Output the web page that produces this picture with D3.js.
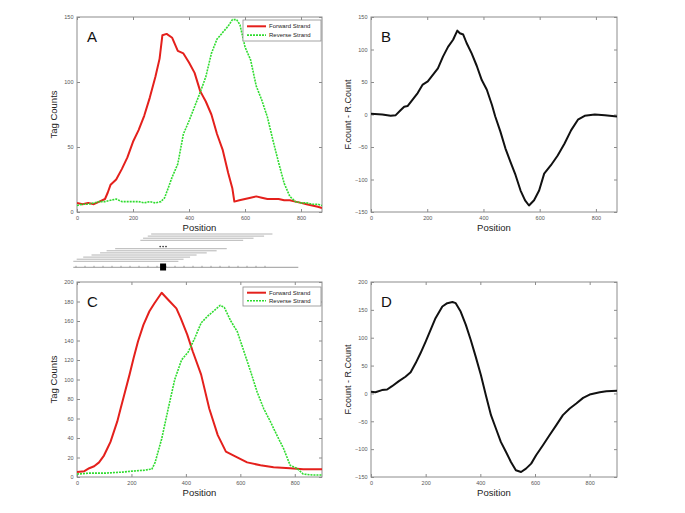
<!DOCTYPE html>
<html><head><meta charset="utf-8">
<script src="https://cdn.jsdelivr.net/npm/d3@7"></script>
<style>body{margin:0;background:#fff}svg{display:block}text{font-family:"Liberation Sans",Arial,sans-serif}</style>
</head><body><svg id="c" width="685" height="513"></svg>
<script>
// ---------------- data ----------------
const xTicks = [0, 200, 400, 600, 800];
const yTicksA = [0, 50, 100, 150];
const yTicksB = [-150, -100, -50, 0, 50, 100, 150];
const yTicksC = [0, 20, 40, 60, 80, 100, 120, 140, 160, 180, 200];
const yTicksD = [-150, -100, -50, 0, 50, 100, 150, 200];
const legendLabels = ["Forward Strand", "Reverse Strand"];

// Panel A
const aForwardPos = [0,20,40,60,80,100,110,120,140,160,180,200,220,240,260,280,295,305,320,340,360,380,400,420,440,460,480,500,520,540,555,562,580,600,620,640,660,680,700,720,740,760,780,800,820,840,860,875];
const aForwardCount = [7,6,7,6,8,10,15,21,25,33,42,54,63,74,88,104,118,136,137,134,124,122,115,107,93,85,75,60,48,30,18,8,9,10,11,12,11,10,10,10,9,9,8,7,6,5,4,3];
const aReversePos = [0,20,40,60,80,100,120,140,160,180,200,220,240,260,280,300,313,325,340,360,380,400,420,440,460,480,500,520,540,555,570,582,600,620,640,660,680,700,720,740,760,780,800,820,840,860,875];
const aReverseCount = [5,6,6,7,8,8,9,10,8,8,8,8,7,8,7,8,11,18,27,37,60,70,81,92,104,122,133,138,143,148,148,144,127,117,97,86,73,55,38,22,12,8,7,7,6,6,5];

// Panel B
const bPos = [0,40,70,88,106,118,130,148,166,184,202,220,238,256,274,292,307,316,328,340,358,376,394,412,430,442,460,478,496,514,532,548,562,580,598,616,640,664,688,712,736,760,796,832,875];
const bDiff = [1,0,-2,-1,7,12,13,23,33,46,51,61,71,89,104,115,129,125,123,110,94,75,53,38,15,-3,-26,-52,-73,-93,-117,-132,-140,-132,-117,-91,-78,-63,-45,-24,-8,-2,0,-1,-3];

// Panel C
const cForwardPos = [0,27,45,63,81,99,111,123,148,160,176,193,208,224,244,266,284,311,341,365,381,405,425,456,486,517,547,583,625,674,722,783,831,900];
const cForwardCount = [5,6,9,11,15,22,29,36,57,70,87,105,122,139,156,170,178,189,180,173,163,146,129,105,70,43,26,21,15,12,10,9,8,8];
const cReversePos = [0,45,105,166,202,250,269,275,287,311,335,359,384,408,432,456,480,505,526,541,565,589,613,638,662,686,710,734,759,783,807,831,868,900];
const cReverseCount = [3,4,4,5,6,7,8,8,15,39,70,100,120,128,142,158,165,171,176,174,160,149,129,108,87,70,57,43,29,12,9,3,2,2];

// Panel D
const dPos = [0,16,40,59,77,102,126,145,163,181,200,218,236,261,279,298,310,328,347,365,383,402,420,439,457,475,494,512,530,549,567,586,604,629,653,678,702,727,751,776,800,837,861,900];
const dDiff = [3,2,6,7,13,22,30,38,54,72,93,114,135,156,162,164,162,147,123,96,66,33,-3,-39,-63,-87,-105,-123,-138,-141,-135,-126,-111,-93,-75,-57,-39,-27,-18,-8,-2,2,4,5];

// Schematic of reads along position
const readStart = [346,331,310,298,186,148,119,81,44,15,0];
const readEnd   = [885,848,801,755,682,637,593,548,519,490,467];
const schemeTicks = d3.range(12, 860, 40);
const schemeMarker = 399;

// ---------------- drawing ----------------
const svg = d3.select("#c");
const RED = "#e4201c", GREEN = "#2fdc2f", BLACK = "#111";
const AX = "#8c8c8c";

function panel(o) {
  const x = d3.scaleLinear().domain(o.xDomain).range([o.left, o.right]);
  const y = d3.scaleLinear().domain(o.yDomain).range([o.bottom, o.top]);
  const g = svg.append("g");
  const clipId = "clip" + o.name;
  svg.append("clipPath").attr("id", clipId).append("rect")
    .attr("x", o.left).attr("y", o.top).attr("width", o.right - o.left).attr("height", o.bottom - o.top);

  const styleAxis = sel => {
    sel.select(".domain").remove();
    sel.selectAll(".tick line").attr("stroke", AX);
    sel.selectAll(".tick text").attr("fill", "#555").attr("font-size", 5.5);
  };
  g.append("g").attr("transform", `translate(0,${o.bottom})`)
    .call(d3.axisBottom(x).tickValues(xTicks).tickSizeInner(-3).tickSizeOuter(0).tickPadding(4)).call(styleAxis);
  g.append("g").attr("transform", `translate(0,${o.top})`)
    .call(d3.axisTop(x).tickValues(xTicks).tickSizeInner(-3).tickSizeOuter(0).tickFormat("")).call(styleAxis);
  g.append("g").attr("transform", `translate(${o.left},0)`)
    .call(d3.axisLeft(y).tickValues(o.yTicks).tickSizeInner(-3).tickSizeOuter(0).tickPadding(3.5)).call(styleAxis);
  g.append("g").attr("transform", `translate(${o.right},0)`)
    .call(d3.axisRight(y).tickValues(o.yTicks).tickSizeInner(-3).tickSizeOuter(0).tickFormat("")).call(styleAxis);
  g.append("rect").attr("x", o.left).attr("y", o.top).attr("width", o.right - o.left).attr("height", o.bottom - o.top)
    .attr("fill", "none").attr("stroke", AX).attr("stroke-width", 1);

  const line = d3.line().x(d => x(d[0])).y(d => y(d[1]));
  o.series.forEach(s => {
    g.append("path").attr("clip-path", `url(#${clipId})`)
      .datum(d3.zip(s.pos, s.val))
      .attr("d", line).attr("fill", "none").attr("stroke", s.color)
      .attr("stroke-width", s.width).attr("stroke-dasharray", s.dash || null)
      .attr("stroke-linejoin", "round");
  });

  g.append("text").attr("x", o.left + 10).attr("y", o.top + 25).attr("font-size", 15).attr("fill", "#111").text(o.letter);
  g.append("text").attr("x", (o.left + o.right) / 2).attr("y", o.bottom + 19).attr("text-anchor", "middle")
    .attr("font-size", 9.5).attr("fill", "#222").text("Position");
  g.append("text").attr("transform", `translate(${o.left - 20},${(o.top + o.bottom) / 2}) rotate(-90)`)
    .attr("text-anchor", "middle").attr("font-size", o.ylabelSize || 9.5).attr("fill", "#222").text(o.ylabel);

  if (o.legend) {
    const lx = o.right - 79, ly = o.top + o.legendTop, lh = o.legendH;
    const lg = g.append("g");
    lg.append("rect").attr("x", lx).attr("y", ly).attr("width", 78).attr("height", lh)
      .attr("fill", "#fff").attr("stroke", AX).attr("stroke-width", 0.8);
    o.series.forEach((s, i) => {
      const yy = ly + lh * (i === 0 ? 0.3 : 0.72);
      lg.append("line").attr("x1", lx + 4).attr("x2", lx + 23).attr("y1", yy).attr("y2", yy)
        .attr("stroke", s.color).attr("stroke-width", s.width).attr("stroke-dasharray", s.dash || null);
      lg.append("text").attr("x", lx + 26).attr("y", yy + 2).attr("font-size", 6).attr("fill", "#222").text(legendLabels[i]);
    });
  }
}

panel({name: "A", letter: "A", left: 77, right: 322, top: 17, bottom: 212, xDomain: [0, 875], yDomain: [0, 150], yTicks: yTicksA,
  ylabel: "Tag Counts", legend: true, legendTop: 3, legendH: 21,
  series: [{pos: aForwardPos, val: aForwardCount, color: RED, width: 2},
           {pos: aReversePos, val: aReverseCount, color: GREEN, width: 1.6, dash: "2,1"}]});
panel({name: "B", letter: "B", left: 371, right: 617, top: 17, bottom: 212, xDomain: [0, 875], yDomain: [-150, 150], yTicks: yTicksB,
  ylabel: "F.count - R.Count", ylabelSize: 9,
  series: [{pos: bPos, val: bDiff, color: BLACK, width: 2}]});
panel({name: "C", letter: "C", left: 77, right: 322, top: 282, bottom: 477, xDomain: [0, 900], yDomain: [0, 200], yTicks: yTicksC,
  ylabel: "Tag Counts", legend: true, legendTop: 5, legendH: 19,
  series: [{pos: cForwardPos, val: cForwardCount, color: RED, width: 2},
           {pos: cReversePos, val: cReverseCount, color: GREEN, width: 1.6, dash: "2,1"}]});
panel({name: "D", letter: "D", left: 371, right: 617, top: 282, bottom: 477, xDomain: [0, 900], yDomain: [-150, 200], yTicks: yTicksD,
  ylabel: "F.count - R.Count", ylabelSize: 9,
  series: [{pos: dPos, val: dDiff, color: BLACK, width: 2}]});

// schematic
const sx = d3.scaleLinear().domain([0, 1000]).range([73.3, 298.3]);
const rowY = i => 234 + (i < 4 ? i : i + 3) * 2.1;
const sg = svg.append("g");
readStart.forEach((s, i) => {
  sg.append("line").attr("x1", sx(s)).attr("x2", sx(readEnd[i])).attr("y1", rowY(i)).attr("y2", rowY(i))
    .attr("stroke", "#b4b4b4").attr("stroke-width", 1);
});
[-13, 0, 13].forEach(d => sg.append("circle").attr("cx", sx(schemeMarker + d)).attr("cy", 246.6).attr("r", 0.8).attr("fill", "#222"));
sg.append("line").attr("x1", sx(0)).attr("x2", sx(1000)).attr("y1", 267.3).attr("y2", 267.3).attr("stroke", "#9a9a9a").attr("stroke-width", 1);
schemeTicks.forEach(t => sg.append("line").attr("x1", sx(t)).attr("x2", sx(t)).attr("y1", 265.8).attr("y2", 267.3).attr("stroke", "#888").attr("stroke-width", 0.8));
sg.append("rect").attr("x", sx(schemeMarker) - 3).attr("y", 263.5).attr("width", 6).attr("height", 7).attr("fill", "#000");
</script></body></html>
